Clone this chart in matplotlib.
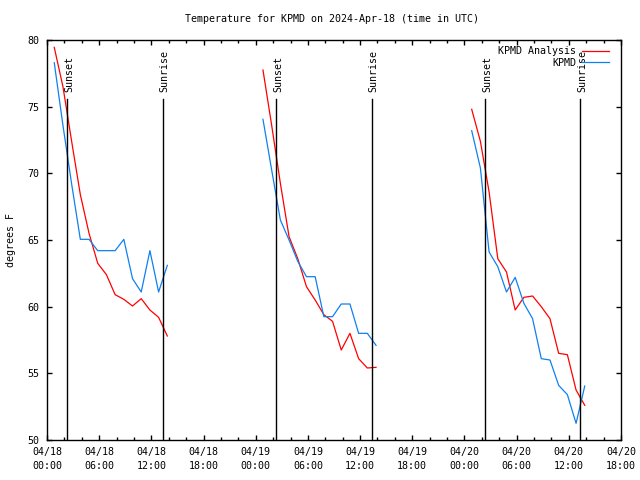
import numpy as np
import matplotlib
matplotlib.use("Agg")
import matplotlib.pyplot as plt
import matplotlib.dates as mdates
import matplotlib.transforms as mtransforms

plt.rcParams['font.family'] = ['DejaVu Sans Mono']
plt.rcParams['font.size'] = 7.2

# hourly times, one run per day (UTC)
hours = ["00:50", "01:50", "02:50", "03:50", "04:50", "05:50", "06:50",
         "07:50", "08:50", "09:50", "10:50", "11:50", "12:50", "13:50"]
days = ["2024-04-18", "2024-04-19", "2024-04-20"]

# KPMD Analysis (red)
ana1 = [79.45, 76.5, 72.4, 68.4, 65.5, 63.25, 62.4, 60.9, 60.55, 60.05, 60.6, 59.75, 59.2, 57.8]
ana2 = [77.75, 73.6, 69.25, 65.25, 63.6, 61.5, 60.5, 59.4, 58.9, 56.75, 58.0, 56.1, 55.4, 55.45]
ana3 = [74.8, 72.4, 68.6, 63.6, 62.6, 59.75, 60.7, 60.8, 60.0, 59.1, 56.5, 56.4, 53.75, 52.6]

# KPMD observed (blue)
obs1 = [78.3, 73.6, 69.2, 65.05, 65.05, 64.2, 64.2, 64.2, 65.05, 62.1, 61.1, 64.2, 61.1, 63.1]
obs2 = [74.05, 70.25, 66.5, 65.0, 63.4, 62.25, 62.25, 59.25, 59.25, 60.2, 60.2, 58.0, 58.0, 57.1]
obs3 = [73.2, 70.4, 64.1, 63.0, 61.1, 62.2, 60.25, 59.1, 56.1, 56.0, 54.1, 53.4, 51.25, 54.05]

sunset = ["2024-04-18T02:21", "2024-04-19T02:21", "2024-04-20T02:22"]
sunrise = ["2024-04-18T13:19", "2024-04-19T13:19", "2024-04-20T13:18"]

red = '#ff0000'
blue = '#0f80f0'

fig = plt.figure(figsize=(6.4, 4.8), dpi=100)
ax = fig.add_axes([47 / 640, 40 / 480, 574 / 640, 400 / 480])

for i, (day, ana, obs) in enumerate(zip(days, [ana1, ana2, ana3], [obs1, obs2, obs3])):
    t = np.array([np.datetime64(day + "T" + h) for h in hours])
    ax.plot(t, ana, color=red, lw=0.9, label='KPMD Analysis' if i == 0 else None)
    ax.plot(t, obs, color=blue, lw=0.9, label='KPMD' if i == 0 else None)

# nudge the rotated labels a bit right of their line
shift = mtransforms.ScaledTranslation(2 / 100, 0, fig.dpi_scale_trans)
for times, name in [(sunset, 'Sunset'), (sunrise, 'Sunrise')]:
    for s in times:
        ax.axvline(np.datetime64(s), ymin=0, ymax=0.8525, color='black', lw=1)
        ax.text(np.datetime64(s), 0.869, name, rotation=90, ha='center', va='bottom',
                transform=ax.get_xaxis_transform() + shift)

ax.set_xlim(np.datetime64("2024-04-18T00:00"), np.datetime64("2024-04-20T18:00"))
ax.set_ylim(50, 80)
ax.set_yticks(np.arange(50, 81, 5))
ax.xaxis.set_major_locator(mdates.HourLocator(byhour=range(0, 24, 6)))
ax.xaxis.set_minor_locator(mdates.HourLocator(byhour=range(0, 24, 2)))
ax.xaxis.set_major_formatter(mdates.DateFormatter('%m/%d\n%H:%M'))
ax.tick_params(which='both', direction='in', top=True, right=True, width=1)
ax.tick_params(which='major', length=3.6)
ax.tick_params(which='minor', length=2.2)
ax.tick_params(axis='x', pad=5)
ax.tick_params(axis='y', pad=5.5)
for sp in ax.spines.values():
    sp.set_linewidth(1)

fig.text(332 / 640, 1 - 19 / 480, 'Temperature for KPMD on 2024-Apr-18 (time in UTC)',
         ha='center', va='center')
fig.text(11 / 640, 0.5, 'degrees F', rotation=90, ha='center', va='center')

ax.legend(loc='upper right', bbox_to_anchor=(609 / 640, 1 - 46 / 480),
          bbox_transform=fig.transFigure, frameon=False, markerfirst=False,
          borderpad=0, borderaxespad=0, handlelength=2.7, handletextpad=0.6,
          labelspacing=0.15)

fig.canvas.draw()
for lab in ax.get_xticklabels():
    lab.set_linespacing(1.45)

fig.savefig('out.png', dpi=100)
